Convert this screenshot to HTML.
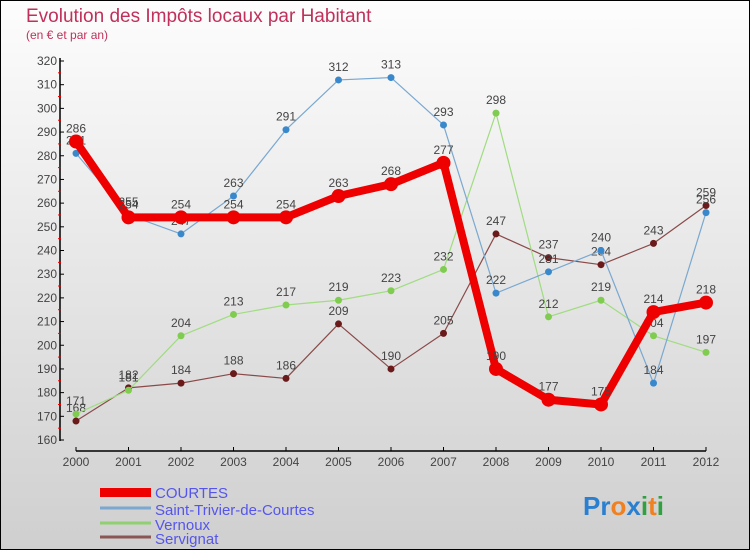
<!DOCTYPE html>
<html><head><meta charset="utf-8"><style>
body{margin:0;width:750px;height:550px;overflow:hidden;font-family:"Liberation Sans",sans-serif}
</style></head><body>
<svg id="c" width="750" height="550" xmlns="http://www.w3.org/2000/svg">
<defs><linearGradient id="bg" x1="0" y1="0" x2="0" y2="1"><stop offset="0" stop-color="#fdfdfd"/><stop offset="1" stop-color="#cfcfcf"/></linearGradient></defs>
<rect x="0.5" y="0.5" width="749" height="549" fill="url(#bg)" stroke="#000"/>
<text x="26" y="22" font-size="19" fill="#c0305a">Evolution des Impôts locaux par Habitant</text>
<text x="26" y="39" font-size="12" fill="#c0305a">(en € et par an)</text>
<g id="axes"></g><g id="series"></g>
<g>
<rect x="100" y="488" width="51" height="9" fill="#e00"/>
<text x="155" y="498" font-size="15" fill="#5555ee">COURTES</text>
<line x1="100" y1="508" x2="151" y2="508" stroke="#7aa8d0" stroke-width="3"/>
<text x="155" y="515" font-size="15" fill="#5555ee">Saint-Trivier-de-Courtes</text>
<line x1="100" y1="523" x2="151" y2="523" stroke="#90d070" stroke-width="3"/>
<text x="155" y="530" font-size="15" fill="#5555ee">Vernoux</text>
<line x1="100" y1="537" x2="151" y2="537" stroke="#8a5555" stroke-width="3"/>
<text x="155" y="544" font-size="15" fill="#5555ee">Servignat</text>
</g>
<text x="583" y="515" font-size="26" font-weight="bold"><tspan fill="#2a7fd0">Pr</tspan><tspan fill="#f08020">o</tspan><tspan fill="#2a7fd0">x</tspan><tspan fill="#30a040">i</tspan><tspan fill="#f08020">t</tspan><tspan fill="#30a040">i</tspan></text>
</svg>
<script>
const years=[2000,2001,2002,2003,2004,2005,2006,2007,2008,2009,2010,2011,2012];
const courtes=[286,254,254,254,254,263,268,277,190,177,175,214,218];
const saintTrivier=[281,255,247,263,291,312,313,293,222,231,240,184,256];
const vernoux=[171,181,204,213,217,219,223,232,298,212,219,204,197];
const servignat=[168,182,184,188,186,209,190,205,247,237,234,243,259];
const yTicks=[160,170,180,190,200,210,220,230,240,250,260,270,280,290,300,310,320];
const NS="http://www.w3.org/2000/svg";
const X=i=>76+i*52.5, Y=v=>440-(v-160)*(379/160);
function mk(t,a,p){const e=document.createElementNS(NS,t);for(const k in a)e.setAttribute(k,a[k]);p.appendChild(e);return e;}
const ax=document.getElementById('axes');
let e=mk('line',{x1:60,y1:58,x2:60,y2:441,stroke:'#000','stroke-width':1.5},ax);


e=mk('line',{x1:76,y1:451,x2:706,y2:451,stroke:'#000','stroke-width':1.5},ax);


yTicks.forEach((v,i)=>{
 mk('line',{x1:60,y1:Y(v),x2:64,y2:Y(v),stroke:'#000'},ax);
 if(i<yTicks.length-1) mk('line',{x1:58,y1:Y(v+5),x2:61,y2:Y(v+5),stroke:'#e00'},ax);
 const t=mk('text',{x:57,y:Y(v)+4,'font-size':12,fill:'#444','text-anchor':'end'},ax);t.textContent=v;
 
 
});
years.forEach((y,i)=>{
 mk('line',{x1:X(i),y1:447,x2:X(i),y2:451,stroke:'#000'},ax);
 const t=mk('text',{x:X(i),y:466,'font-size':12,fill:'#444','text-anchor':'middle'},ax);t.textContent=y;
 
 
});
const sg=document.getElementById('series');
function draw(data,color,dot,w,r,name){
 const g=mk('g',{},sg);
 
 
 mk('polyline',{points:data.map((v,i)=>X(i)+','+Y(v)).join(' '),fill:'none',stroke:color,'stroke-width':w,'stroke-linejoin':'round'},g);
 data.forEach((v,i)=>{
  const c=mk('circle',{cx:X(i),cy:Y(v),r:r,fill:dot},g);
  
  
  const t=mk('text',{x:X(i),y:Y(v)-9,'font-size':12,fill:'#444','text-anchor':'middle'},g);t.textContent=v;
  
  
 });
}
draw(servignat,'#8a4a4a','#6a1a1a',1.2,3.5,'servignat');
draw(vernoux,'#a0dc80','#80cc50',1.2,3.5,'vernoux');
draw(saintTrivier,'#7aa8d0','#3a88cc',1.2,3.5,'saint-trivier');
draw(courtes,'#ee0000','#ee0000',8,7,'courtes');
</script>
</body></html>
